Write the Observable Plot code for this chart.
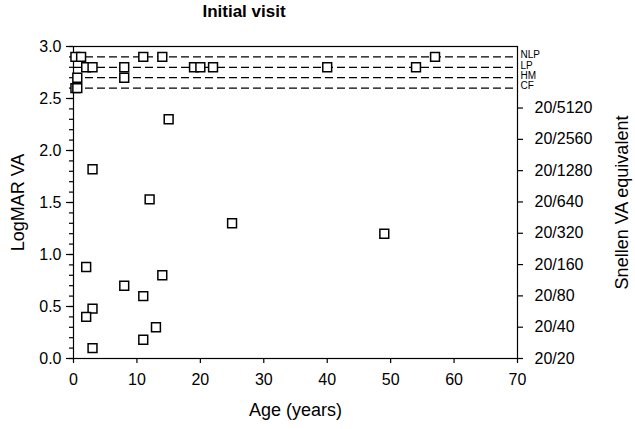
<!DOCTYPE html>
<html>
<head>
<meta charset="utf-8">
<script src="https://cdn.jsdelivr.net/npm/d3@7"></script>
<script src="https://cdn.jsdelivr.net/npm/@observablehq/plot@0.6"></script>
<style>
  body { margin: 0; background: #fff; font-family: "Liberation Sans", Arial, sans-serif; }
  #wrap { position: relative; width: 635px; height: 429px; }
  #title { position: absolute; top: 2px; left: 0; width: 488px; text-align: center; font-weight: bold; font-size: 17px; color: #000; }
  #chart { position: absolute; top: 30px; left: 0; }
  #chart g[aria-label="y-axis tick label"], #chart g[aria-label="x-axis tick label"] { font-size: 16px !important; }
  #chart g[aria-label="y-axis label"], #chart g[aria-label="x-axis label"] { font-size: 18px !important; }
</style>
</head>
<body>
<div id="wrap">
  <div id="title">Initial visit</div>
  <div id="chart"></div>
</div>
<script>
// Patient data: age (years) and LogMAR VA at initial visit
const ages = [0.3, 1.2, 11, 14, 57,
              2, 3, 8, 19, 20, 22, 40, 54,
              0.6, 8,
              0.3, 0.6,
              15, 3, 12, 25, 49, 2, 14, 8, 11, 3, 2, 13, 11, 3];
const logmar = [2.9, 2.9, 2.9, 2.9, 2.9,
                2.8, 2.8, 2.8, 2.8, 2.8, 2.8, 2.8, 2.8,
                2.7, 2.7,
                2.6, 2.6,
                2.3, 1.82, 1.53, 1.3, 1.2, 0.88, 0.8, 0.7, 0.6, 0.48, 0.4, 0.3, 0.18, 0.1];

// Low-vision category reference lines
const categoryLabels = ["NLP", "LP", "HM", "CF"];
const categoryValues = [2.9, 2.8, 2.7, 2.6];

// Snellen equivalents (right axis)
const snellenLabels = ["20/20", "20/40", "20/80", "20/160", "20/320", "20/640", "20/1280", "20/2560", "20/5120"];
const snellenDenoms = [20, 40, 80, 160, 320, 640, 1280, 2560, 5120];

const points = ages.map((a, i) => ({age: a, va: logmar[i]}));
const cats = categoryLabels.map((l, i) => ({label: l, va: categoryValues[i]}));
const snellenTicks = snellenDenoms.map(d => Math.log10(d / 20));

const font = "Liberation Sans, Arial, sans-serif";

const plot = Plot.plot({
  width: 635,
  height: 399,
  marginTop: 16,
  marginBottom: 71,
  marginLeft: 73,
  marginRight: 118,
  style: {fontFamily: font, fontSize: "16px", color: "#000", background: "#fff"},
  x: {domain: [0, 70]},
  y: {domain: [0, 3]},
  marks: [
    // dashed category lines
    Plot.ruleY(cats, {y: "va", x1: 0, x2: 70, stroke: "#000", strokeWidth: 1.2, strokeDasharray: "8,4"}),
    Plot.text(cats, {x: 70, y: "va", text: "label", textAnchor: "start", dx: 3, dy: -2, fontSize: 10}),
    // left axis: minor ticks
    Plot.axisY({ticks: d3.range(0, 3.001, 0.1), tickSize: 4, tickFormat: () => "", label: null, strokeWidth: 1.2}),
    // left axis: major ticks & labels
    Plot.axisY({ticks: d3.range(0, 3.001, 0.5), tickSize: 7, tickPadding: 5, tickFormat: d3.format(".1f"),
                label: "LogMAR VA", labelAnchor: "center", labelOffset: 62, labelArrow: "none", strokeWidth: 1.2}),
    // right axis: Snellen equivalent
    Plot.axisY({anchor: "right", ticks: snellenTicks, tickSize: 5, tickPadding: 12,
                tickFormat: (d, i) => snellenLabels[i],
                label: "Snellen VA equivalent", labelAnchor: "center", labelOffset: 110, labelArrow: "none", strokeWidth: 1.2}),
    // x axis
    Plot.axisX({ticks: d3.range(0, 70.001, 10), tickSize: 5, tickPadding: 10,
                label: "Age (years)", labelAnchor: "center", labelOffset: 57, labelArrow: "none", strokeWidth: 1.2}),
    Plot.frame({stroke: "#000", strokeWidth: 1.2}),
    // data points
    Plot.dot(points, {x: "age", y: "va", symbol: "square", r: 5, fill: "#fff", stroke: "#000", strokeWidth: 1.5})
  ]
});
document.getElementById("chart").appendChild(plot);
</script>
</body>
</html>
